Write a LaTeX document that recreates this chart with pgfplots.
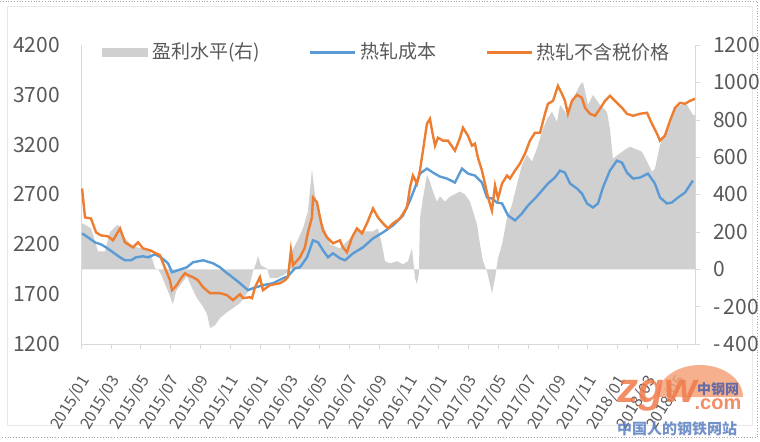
\documentclass[border=0pt]{standalone}
\usepackage{fontspec}
\setmainfont{Noto Sans CJK SC}
\newfontfamily\wmfont{Liberation Sans}
\usepackage{pgfplots}
\pgfplotsset{compat=1.18}
\definecolor{profitgray}{HTML}{D0D0D0}
\definecolor{costblue}{HTML}{5B9BD5}
\definecolor{priceorange}{HTML}{ED7D31}
\definecolor{axisgray}{HTML}{D9D9D9}
\definecolor{labelgray}{HTML}{595959}
\definecolor{wmorange}{HTML}{F07A4A}
\definecolor{wmglobe}{HTML}{F4A27A}
\definecolor{wmblue}{HTML}{5B7FBF}
\definecolor{wmpurple}{HTML}{4E5FA8}

% profit level (right axis), x = months since 2015/01
\pgfplotstableread{
m r
0.00 245
0.13 245
0.67 219
0.94 150
1.14 96
1.61 96
1.95 200
2.48 240
2.95 165
3.49 123
4.03 112
4.63 96
4.97 5
5.17 0
5.37 -27
5.84 -117
6.17 -187
6.38 -117
6.71 -80
7.11 -37
7.45 -100
7.79 -155
8.19 -200
8.46 -240
8.66 -315
8.99 -300
9.33 -261
9.80 -230
10.20 -208
10.67 -181
11.21 -120
11.54 -11
11.74 30
11.88 70
12.08 20
12.48 5
12.68 -48
13.15 -48
13.69 -27
13.89 -11
14.03 80
14.50 149
14.90 219
15.23 309
15.50 533
15.70 400
16.04 272
16.51 187
16.71 133
17.38 112
18.05 165
18.52 219
18.93 203
19.60 203
19.93 219
20.20 133
20.40 43
20.74 32
21.21 43
21.61 27
21.95 43
22.21 112
22.42 -48
22.55 -80
22.68 -20
22.75 272
22.95 379
23.22 506
23.42 469
23.62 416
23.89 362
24.09 390
24.43 362
24.77 389
25.44 416
25.77 400
26.11 362
26.31 309
26.58 240
26.78 133
26.98 43
27.25 -11
27.45 -80
27.58 -128
27.79 -48
27.99 59
28.26 133
28.59 272
28.93 346
29.26 453
29.60 560
29.93 613
30.27 576
30.60 645
30.94 736
31.28 805
31.61 842
31.95 789
32.15 880
32.42 850
32.62 826
33.02 911
33.49 986
33.69 1002
34.03 880
34.36 933
34.83 880
35.30 842
35.50 752
35.70 592
36.04 613
36.51 640
36.85 656
37.18 645
37.65 629
37.99 576
38.32 522
38.52 538
38.86 666
39.33 752
39.73 842
40.20 880
40.67 880
41.07 826
41.21 826
}\profit

% hot-rolled cost
\pgfplotstableread{
m v
0.07 2310
0.47 2270
0.94 2220
1.34 2200
1.68 2170
2.15 2120
2.62 2070
2.95 2040
3.36 2040
3.69 2070
4.16 2080
4.50 2070
4.97 2100
5.37 2070
5.84 2010
6.11 1920
6.51 1940
7.11 1970
7.52 2020
8.19 2040
8.86 2010
9.33 1970
9.80 1910
10.00 1890
10.67 1810
11.21 1740
11.54 1760
12.21 1790
12.89 1810
13.56 1860
13.89 1880
14.36 1960
14.70 1970
15.17 2070
15.57 2240
15.91 2220
16.24 2140
16.58 2070
16.91 2110
17.38 2060
17.72 2040
18.26 2110
18.93 2170
19.60 2260
20.27 2320
20.94 2390
21.61 2490
22.08 2640
22.42 2770
22.75 2910
23.22 2960
23.62 2920
24.09 2880
24.56 2860
25.10 2820
25.57 2960
25.97 2910
26.44 2890
26.91 2820
27.25 2670
27.58 2660
27.92 2620
28.26 2610
28.66 2490
29.13 2440
29.60 2510
30.00 2590
30.47 2660
30.94 2740
31.34 2810
31.81 2870
32.15 2940
32.48 2920
32.82 2810
33.29 2760
33.62 2710
33.96 2610
34.36 2570
34.70 2610
35.03 2770
35.50 2940
35.97 3040
36.31 3020
36.64 2920
37.05 2860
37.52 2870
38.05 2910
38.52 2810
38.86 2670
39.33 2610
39.66 2620
40.07 2670
40.54 2720
41.07 2840
}\cost

% hot-rolled price excluding tax
\pgfplotstableread{
m v
0.07 2760
0.27 2470
0.67 2460
1.01 2320
1.34 2290
1.81 2280
2.15 2240
2.62 2360
2.95 2220
3.49 2170
3.83 2220
4.16 2160
4.63 2140
5.03 2110
5.30 2090
5.64 1960
5.97 1840
6.11 1740
6.31 1770
6.51 1810
6.71 1860
6.98 1910
7.18 1890
7.52 1870
7.85 1840
8.19 1770
8.66 1710
9.33 1710
9.80 1690
10.20 1640
10.67 1700
10.87 1660
11.34 1670
11.48 1660
11.68 1770
12.01 1870
12.21 1740
12.68 1790
13.36 1810
13.69 1840
13.89 1870
14.09 2140
14.23 1990
14.70 2070
15.03 2170
15.23 2320
15.50 2470
15.57 2670
15.84 2620
16.04 2470
16.24 2340
16.51 2270
16.91 2210
17.38 2240
17.58 2170
17.85 2120
18.19 2270
18.52 2360
18.86 2310
19.19 2410
19.60 2560
19.93 2470
20.27 2410
20.60 2360
20.94 2410
21.41 2460
21.88 2570
22.08 2770
22.28 2890
22.55 2810
22.75 2940
22.95 3140
23.22 3410
23.42 3460
23.56 3340
23.76 3190
23.96 3270
24.30 3240
24.63 3240
25.10 3140
25.44 3270
25.64 3370
25.97 3290
26.24 3190
26.44 3210
26.64 3070
26.91 2940
27.11 2810
27.32 2670
27.58 2540
27.79 2790
27.99 2660
28.26 2810
28.59 2890
28.79 2860
29.13 2940
29.46 3010
29.80 3110
30.13 3240
30.47 3320
30.81 3320
31.14 3510
31.34 3610
31.68 3640
32.01 3790
32.28 3710
32.48 3640
32.68 3510
32.95 3640
33.29 3700
33.62 3670
33.83 3570
34.16 3510
34.50 3490
34.83 3560
35.17 3640
35.50 3690
35.84 3640
36.31 3570
36.64 3510
37.05 3490
37.52 3510
37.99 3520
38.32 3410
38.66 3310
38.86 3240
39.19 3290
39.53 3440
39.87 3570
40.20 3620
40.54 3610
40.87 3640
41.21 3660
}\price

\pgfplotsset{
  base/.style={scale only axis,width=307pt,height=149.5pt,xmin=0,xmax=41.21,
    axis line style={draw=axisgray},tick style={draw=axisgray},
    ticklabel style={text=labelgray},
    yticklabel style={font=\fontsize{10.5}{11}\selectfont}},
  linelegend/.style={legend image code/.code={\draw[##1] (0pt,0pt) -- (22.5pt,0pt);}}
}

\begin{document}
\begin{tikzpicture}
\path[use as bounding box] (-40.5pt,-48.5pt) rectangle (339.5pt,172pt);
% chart area frame and screenshot border
\draw[draw=gray!18] (-37pt,-40.5pt) rectangle (335.5pt,169pt);
\draw[gray!70,densely dotted] (-40.5pt,171.5pt) -- (338.25pt,171.5pt) -- (338.25pt,-46.75pt) -- (-40.5pt,-46.75pt);

% right axis: profit area, plus the date axis
\begin{axis}[base,at={(0,0)},
  axis x line*=bottom,axis y line*=right,
  ymin=-400,ymax=1200,ytick={-400,-200,...,1200},
  yticklabels={-\,400,-\,200,0,200,400,600,800,1000,1200},
  tick align=outside,major tick length=2.5pt,
  yticklabel style={xshift=3pt},
  xtick={0,2,...,40},
  xticklabels={2015/01,2015/03,2015/05,2015/07,2015/09,2015/11,2016/01,2016/03,2016/05,2016/07,2016/09,2016/11,2017/01,2017/03,2017/05,2017/07,2017/09,2017/11,2018/01,2018/03,2018/05},
  xticklabel style={font=\fontsize{8}{9}\selectfont,yshift=-14pt,xshift=2.5pt,rotate=59,anchor=east,inner sep=0pt}]
\addplot[fill=profitgray,draw=none] table[x=m,y=r] {\profit} \closedcycle;
\end{axis}

% left axis: cost and price lines
\begin{axis}[base,at={(0,0)},
  axis x line=none,axis y line*=left,
  ymin=1200,ymax=4200,ytick={1200,1700,...,4200},
  yticklabels={1200,1700,2200,2700,3200,3700,4200},
  major tick length=0pt,yticklabel style={xshift=-7pt},
  legend columns=3,legend cell align=left,
  legend style={at={(axis description cs:0.034,0.975)},anchor=west,draw=none,fill=none,
    font=\fontsize{9.5}{10}\selectfont,text=labelgray,inner sep=0pt,
    nodes={inner sep=2pt},
    /tikz/every even column/.append style={column sep=22.5pt}}]
\addlegendimage{legend image code/.code={\fill[profitgray] (0pt,-2pt) rectangle (22.5pt,2pt);}}
\addlegendentry{盈利水平(右)}
\addplot[costblue,line width=1.2pt,linelegend] table[x=m,y=v] {\cost};
\addlegendentry{热轧成本}
\addplot[priceorange,line width=1.2pt,linelegend] table[x=m,y=v] {\price};
\addlegendentry{热轧不含税价格}
\end{axis}

% site watermark
\begin{scope}[opacity=0.85]
\fill[wmglobe] (288pt,-26.5pt) arc[start angle=180,end angle=0,x radius=21.5pt,y radius=16pt] -- cycle;
\node[text=wmorange,font=\wmfont\bfseries\itshape\fontsize{21}{21}\selectfont] at (288pt,-26pt) {zgw};
\node[text=wmorange,font=\wmfont\bfseries\fontsize{10}{10}\selectfont] at (318.5pt,-30pt) {.com};
\node[text=wmpurple,font=\bfseries\fontsize{7}{7}\selectfont] at (318.5pt,-22.5pt) {中钢网};
\node[text=wmblue,font=\bfseries\fontsize{7.5}{8}\selectfont] at (298pt,-42.5pt) {中国人的钢铁网站};
\end{scope}
\end{tikzpicture}
\end{document}
